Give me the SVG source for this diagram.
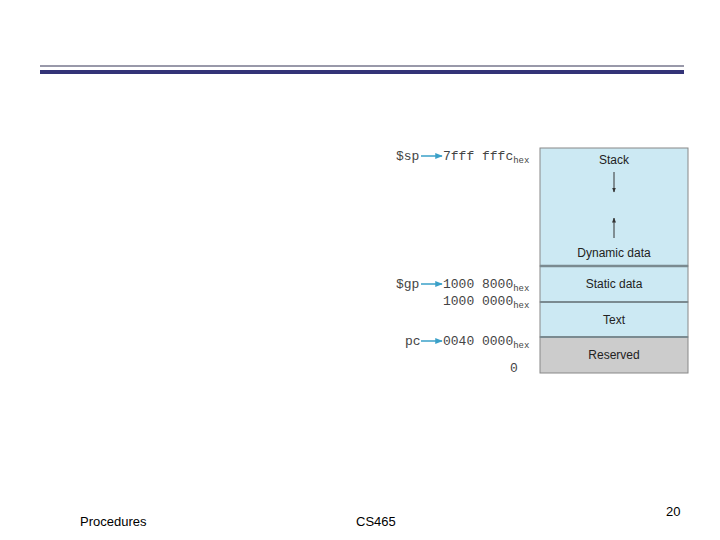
<svg xmlns="http://www.w3.org/2000/svg" width="720" height="540" viewBox="0 0 720 540">
<style>
.m{font-family:"Liberation Mono",monospace;font-size:13px;fill:#444}
.s{font-family:"Liberation Mono",monospace;font-size:9px;fill:#444}
.l{font-family:"Liberation Sans",sans-serif;font-size:12px;fill:#222;text-anchor:middle}
.f{font-family:"Liberation Sans",sans-serif;font-size:13px;fill:#000}
.a{stroke:#3aa0c8;stroke-width:1.5}
</style>
<defs>
<marker id="ab" viewBox="0 0 10 10" refX="9" refY="5" markerWidth="5" markerHeight="5" orient="auto"><path d="M0,1 L10,5 L0,9 z" fill="#3aa0c8"/></marker>
<marker id="ak" viewBox="0 0 10 10" refX="9" refY="5" markerWidth="5" markerHeight="5" orient="auto"><path d="M0,1 L10,5 L0,9 z" fill="#333"/></marker>
</defs>
<rect width="720" height="540" fill="#fff"/>
<line x1="40" y1="66" x2="684" y2="66" stroke="#333355" stroke-width="1"/>
<rect x="40" y="70" width="644" height="4" fill="#333377"/>
<g id="stack"><rect x="540" y="148" width="148" height="118" fill="#cce9f3" stroke="#888" stroke-width="1"/>
<text class="l" x="614" y="164">Stack</text>
<line x1="614" y1="172" x2="614" y2="192" stroke="#333" marker-end="url(#ak)"/>
<line x1="614" y1="238" x2="614" y2="218" stroke="#333" marker-end="url(#ak)"/>
<text class="l" x="614" y="257">Dynamic data</text></g>
<g id="static"><rect x="540" y="266" width="148" height="36" fill="#cce9f3" stroke="#888" stroke-width="1"/>
<text class="l" x="614" y="288">Static data</text></g>
<g id="text"><rect x="540" y="302" width="148" height="35" fill="#cce9f3" stroke="#888" stroke-width="1"/>
<text class="l" x="614" y="324">Text</text></g>
<g id="reserved"><rect x="540" y="337" width="148" height="36" fill="#cccccc" stroke="#888" stroke-width="1"/>
<text class="l" x="614" y="359">Reserved</text></g>
<line x1="540" y1="266" x2="688" y2="266" stroke="#7a8a90" stroke-width="2.5"/>
<line x1="540" y1="302" x2="688" y2="302" stroke="#7a8a90" stroke-width="2"/>
<line x1="540" y1="337" x2="688" y2="337" stroke="#7a8a90" stroke-width="2"/>
<g id="connectors">
<line class="a" x1="421" y1="156" x2="442" y2="156" marker-end="url(#ab)"/>
<line class="a" x1="421" y1="284" x2="442" y2="284" marker-end="url(#ab)"/>
<line class="a" x1="421" y1="341" x2="442" y2="341" marker-end="url(#ab)"/>
</g>
<g id="labels">
<text class="m" x="396" y="160">$sp</text>
<text class="m" x="443" y="160">7fff fffc<tspan class="s" dy="3">hex</tspan></text>
<text class="m" x="396" y="288">$gp</text>
<text class="m" x="443" y="288">1000 8000<tspan class="s" dy="3">hex</tspan></text>
<text class="m" x="443" y="305">1000 0000<tspan class="s" dy="3">hex</tspan></text>
<text class="m" x="405" y="345">pc</text>
<text class="m" x="443" y="345">0040 0000<tspan class="s" dy="3">hex</tspan></text>
<text class="m" x="510" y="372">0</text>
</g>
<text class="f" x="80" y="526">Procedures</text>
<text class="f" x="356" y="526">CS465</text>
<text class="f" x="666" y="516">20</text>
</svg>
